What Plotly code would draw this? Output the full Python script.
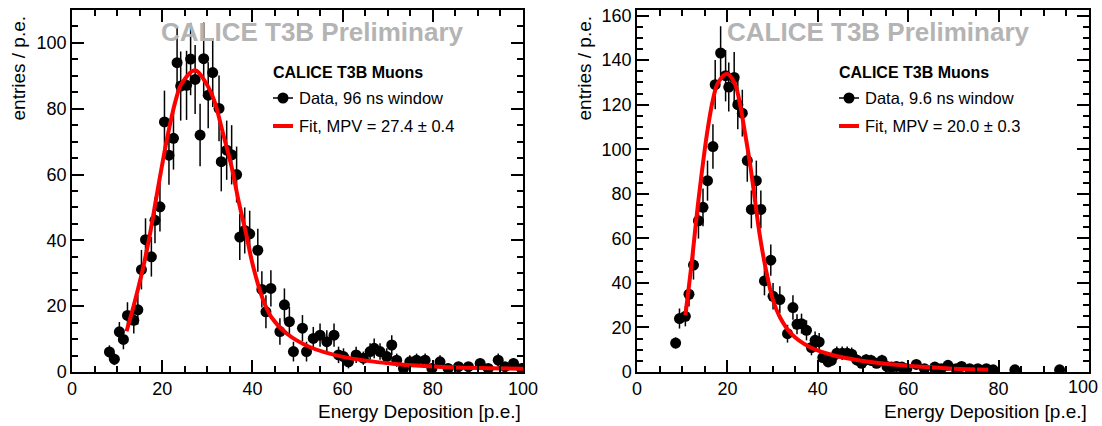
import plotly.graph_objects as go

W, H = 1102, 426

# ---------------- data: left panel (96 ns window) ----------------
left_x = [8.3, 9.4, 10.5, 11.4, 12.3, 13.7, 14.6, 15.4, 16.3, 17.6, 18.4, 19.5, 20.5, 21.5,
          22.5, 23.3, 24.1, 25.4, 26.3, 27.3, 28.4, 29.2, 30.2, 31.2, 32.6, 33.1, 34.3, 35.4,
          36.5, 37.2, 38.3, 39.4, 41.2, 42.1, 43.0, 44.1, 46.1, 47.1, 48.2, 49.1, 51.1, 52.0,
          53.5, 55.0, 56.5, 58.1, 59.1, 60.2, 61.3, 63.0, 64.6, 66.1, 67.0, 68.3, 69.8, 70.9,
          72.0, 73.5, 74.9, 76.4, 78.3, 79.8, 81.6, 83.4, 85.7, 87.9, 90.5, 92.3, 94.5, 96.0,
          97.9, 99.7]
left_y = [6.1, 3.9, 12.2, 9.9, 17.2, 15.7, 18.9, 31.1, 40.2, 35.0, 46.1, 50.2, 76.0, 65.9,
          71.0, 94.0, 86.9, 87.1, 95.1, 88.9, 72.0, 95.2, 84.1, 91.0, 80.1, 63.9, 67.4, 66.0,
          60.0, 41.0, 43.0, 42.0, 37.0, 25.1, 18.3, 25.4, 12.3, 20.4, 15.3, 6.2, 13.3, 6.2,
          10.2, 11.2, 9.2, 11.2, 5.2, 4.7, 3.1, 5.2, 4.2, 6.2, 7.2, 6.2, 4.7, 8.2,
          3.6, 1.1, 3.1, 3.6, 3.6, 1.1, 3.1, 1.1, 1.6, 1.6, 2.6, 1.1, 3.6, 1.6,
          2.6, 1.1]
left_err = [2.0, 1.8, 3.0, 3.0, 4.0, 4.0, 4.5, 6.0, 6.5, 6.0, 7.0, 7.5, 9.5, 9.0,
            9.5, 11.0, 10.5, 10.5, 11.0, 10.5, 9.5, 11.0, 10.0, 10.5, 10.0, 9.0, 9.0, 9.0,
            8.5, 7.0, 7.0, 7.0, 6.5, 5.5, 5.0, 5.5, 4.0, 5.0, 4.5, 3.0, 4.0, 3.0,
            3.5, 3.5, 3.5, 3.5, 2.5, 2.5, 2.0, 2.5, 2.0, 2.5, 3.0, 2.5, 2.5, 3.0,
            2.0, 1.0, 2.0, 2.0, 2.0, 1.0, 2.0, 1.0, 1.2, 1.2, 1.5, 1.0, 2.0, 1.2,
            1.5, 1.0]
left_fit_x = [12.1, 14.0, 15.8, 17.3, 18.6, 19.9, 21.3, 23.0, 24.3, 27.3, 29.8, 31.5, 33.5,
              35.4, 36.9, 38.6, 40.2, 42.4, 44.2, 47.6, 52.7, 60.1, 71.2, 82.3, 100.0]
left_fit_y = [12.4, 21.8, 31.9, 42.0, 52.2, 62.3, 72.4, 82.6, 87.6, 91.7, 87.6, 82.6, 72.4,
              62.3, 52.2, 42.0, 31.9, 21.8, 16.7, 11.7, 7.6, 4.6, 2.5, 1.5, 1.0]

# ---------------- data: right panel (9.6 ns window) ----------------
right_x = [8.55, 9.4, 10.7, 11.5, 12.5, 13.6, 14.6, 15.6, 16.8, 17.3, 18.5, 19.6, 20.3, 21.5,
           22.3, 23.3, 24.4, 25.3, 26.4, 27.4, 28.2, 29.6, 30.1, 31.6, 33.3, 34.5, 35.4, 36.4,
           37.5, 38.6, 39.4, 40.3, 41.1, 42.3, 43.0, 44.2, 45.4, 46.5, 47.5, 48.6, 49.7, 50.7,
           51.8, 53.0, 54.2, 55.3, 56.3, 57.4, 58.6, 59.7, 61.8, 63.6, 65.9, 67.3, 68.8, 70.6,
           71.8, 73.6, 75.4, 77.3, 78.8, 83.6, 93.5]
right_y = [13.0, 24.0, 25.0, 34.9, 48.0, 67.9, 73.9, 85.9, 101.2, 129.0, 143.2, 133.0, 127.9, 132.2,
           120.0, 116.2, 94.9, 73.0, 85.9, 73.0, 40.9, 50.2, 34.0, 32.5, 17.2, 28.9, 21.4, 21.7,
           18.7, 11.0, 14.2, 13.5, 6.5, 4.5, 5.2, 8.4, 8.4, 8.4, 8.0, 5.4, 3.9, 5.5,
           5.2, 3.9, 5.2, 2.5, 2.2, 2.5, 2.2, 1.5, 3.4, 1.5, 2.2, 1.5, 3.0, 1.5,
           2.5, 1.5, 1.5, 1.5, 1.0, 1.0, 1.0]
right_err = [2.5, 4.5, 4.5, 5.5, 6.5, 8.0, 8.5, 9.0, 10.0, 11.0, 12.0, 11.5, 11.0, 11.5,
             11.0, 10.5, 9.5, 8.5, 9.0, 8.5, 6.5, 7.0, 6.0, 6.0, 4.0, 5.5, 4.5, 4.5,
             4.5, 3.5, 4.0, 4.0, 2.5, 2.0, 2.0, 3.0, 3.0, 3.0, 3.0, 2.5, 2.0, 2.5,
             2.5, 2.0, 2.5, 1.5, 1.5, 1.5, 1.5, 1.2, 2.0, 1.2, 1.5, 1.2, 1.8, 1.2,
             1.5, 1.2, 1.2, 1.2, 1.0, 1.0, 1.0]
right_fit_x = [10.7, 12.0, 13.6, 15.5, 16.8, 17.9, 19.9, 21.6, 22.6, 23.9, 25.1, 26.1, 27.1,
               28.4, 30.1, 31.6, 34.1, 38.2, 43.4, 49.3, 58.8, 69.9, 77.7]
right_fit_y = [25.5, 47.2, 77.2, 107.2, 122.2, 129.7, 133.9, 129.7, 122.2, 107.2, 92.2, 77.2, 62.2,
               47.2, 32.2, 24.7, 17.2, 11.2, 7.5, 5.2, 3.0, 1.5, 1.0]

x_ticks = [0, 20, 40, 60, 80, 100]
x_tick_labels = ["0", "20", "40", "60", "80", "100"]
left_y_ticks = [0, 20, 40, 60, 80, 100]
right_y_ticks = [0, 20, 40, 60, 80, 100, 120, 140, 160]

panels = [
    dict(x=left_x, y=left_y, err=left_err, fx=left_fit_x, fy=left_fit_y, yticks=left_y_ticks,
         yr=[0, 110], px0=72, px1=523, label="Data, 96 ns window", fit="Fit, MPV = 27.4 ± 0.4",
         leg_x=271, mark_x=283, text_x=297, wm_x=312, ytitle_x=18, xtitle_r=523),
    dict(x=right_x, y=right_y, err=right_err, fx=right_fit_x, fy=right_fit_y, yticks=right_y_ticks,
         yr=[0, 162.5], px0=637, px1=1089, label="Data, 9.6 ns window", fit="Fit, MPV = 20.0 ± 0.3",
         leg_x=836.5, mark_x=849, text_x=863, wm_x=878, ytitle_x=584, xtitle_r=1089),
]

FONT = "Liberation Sans, Arial, Helvetica, sans-serif"
fig = go.Figure()
annotations = []
shapes = []


def px(x):
    return x / W


def py(y):
    return 1 - y / H


y_dom = [py(372), py(10)]

for i, p in enumerate(panels):
    xa = "x" if i == 0 else "x2"
    ya = "y" if i == 0 else "y2"
    fig.add_trace(go.Scatter(
        x=p["x"], y=p["y"], mode="markers", xaxis=xa, yaxis=ya,
        marker=dict(color="black", size=11),
        error_y=dict(type="data", array=p["err"], color="black", thickness=1.5, width=0),
        showlegend=False, cliponaxis=True))
    fig.add_trace(go.Scatter(
        x=p["fx"], y=p["fy"], mode="lines", xaxis=xa, yaxis=ya,
        line=dict(color="#ff0000", width=4, shape="spline", smoothing=1.0),
        showlegend=False))

    axis_common = dict(
        showline=True, linecolor="black", linewidth=1.5, mirror="ticks",
        ticks="inside", ticklen=12, tickwidth=1.5, tickcolor="black",
        showgrid=False, zeroline=False, automargin=False,
        tickfont=dict(family=FONT, size=18, color="black"),
    )
    # the last x label of the right panel sits at the page edge: drawn as an annotation
    xlabels = x_tick_labels if i == 0 else x_tick_labels[:-1] + [""]
    xaxis = dict(axis_common, domain=[px(p["px0"]), px(p["px1"])], range=[0, 100],
                 tickvals=x_ticks, ticktext=xlabels, anchor=ya,
                 minor=dict(ticks="inside", ticklen=6, tickwidth=1.5, tickcolor="black", dtick=5, showgrid=False))
    yaxis = dict(axis_common, domain=y_dom, range=p["yr"], tickvals=p["yticks"], anchor=xa,
                 minor=dict(ticks="inside", ticklen=6, tickwidth=1.5, tickcolor="black", dtick=5, showgrid=False))
    if i == 0:
        fig.update_layout(xaxis=xaxis, yaxis=yaxis)
    else:
        fig.update_layout(xaxis2=xaxis, yaxis2=yaxis)
        annotations.append(dict(text=x_tick_labels[-1], xref="paper", yref="paper",
                                x=px(1100), y=py(375), xanchor="right", yanchor="top",
                                showarrow=False, font=dict(family=FONT, size=18, color="black")))

    # watermark
    annotations.append(dict(text="<b>CALICE T3B Preliminary</b>", xref="paper", yref="paper",
                            x=px(p["wm_x"]), y=py(32), xanchor="center", yanchor="middle",
                            showarrow=False, font=dict(family=FONT, size=26, color="#b4b4b4")))
    # legend header
    annotations.append(dict(text="<b>CALICE T3B Muons</b>", xref="paper", yref="paper",
                            x=px(p["leg_x"]), y=py(72), xanchor="left", yanchor="middle",
                            showarrow=False, font=dict(family=FONT, size=16, color="black")))
    annotations.append(dict(text=p["label"], xref="paper", yref="paper",
                            x=px(p["text_x"]), y=py(98), xanchor="left", yanchor="middle",
                            showarrow=False, font=dict(family=FONT, size=16.5, color="black")))
    annotations.append(dict(text=p["fit"], xref="paper", yref="paper",
                            x=px(p["text_x"]), y=py(126), xanchor="left", yanchor="middle",
                            showarrow=False, font=dict(family=FONT, size=16.5, color="black")))
    mx = p["mark_x"]
    shapes.append(dict(type="line", xref="paper", yref="paper", x0=px(mx - 10), x1=px(mx + 10),
                       y0=py(98), y1=py(98), line=dict(color="black", width=1.5)))
    shapes.append(dict(type="circle", xref="paper", yref="paper", x0=px(mx - 5.5), x1=px(mx + 5.5),
                       y0=py(98 + 5.5), y1=py(98 - 5.5), fillcolor="black", line=dict(color="black", width=0)))
    shapes.append(dict(type="line", xref="paper", yref="paper", x0=px(mx - 10), x1=px(mx + 10),
                       y0=py(126), y1=py(126), line=dict(color="#ff0000", width=4)))
    # axis titles
    annotations.append(dict(text="entries / p.e.", xref="paper", yref="paper",
                            x=px(p["ytitle_x"]), y=py(14), xanchor="center", yanchor="top",
                            textangle=-90, showarrow=False, font=dict(family=FONT, size=19, color="black")))
    annotations.append(dict(text="Energy Deposition [p.e.]", xref="paper", yref="paper",
                            x=px(p["xtitle_r"]), y=py(411), xanchor="right", yanchor="middle",
                            showarrow=False, font=dict(family=FONT, size=19, color="black")))

fig.update_layout(
    width=W, height=H, margin=dict(l=0, r=0, t=0, b=0),
    paper_bgcolor="white", plot_bgcolor="white",
    annotations=annotations, shapes=shapes, showlegend=False,
    font=dict(family=FONT, color="black"),
)

fig.write_html("out.html")
